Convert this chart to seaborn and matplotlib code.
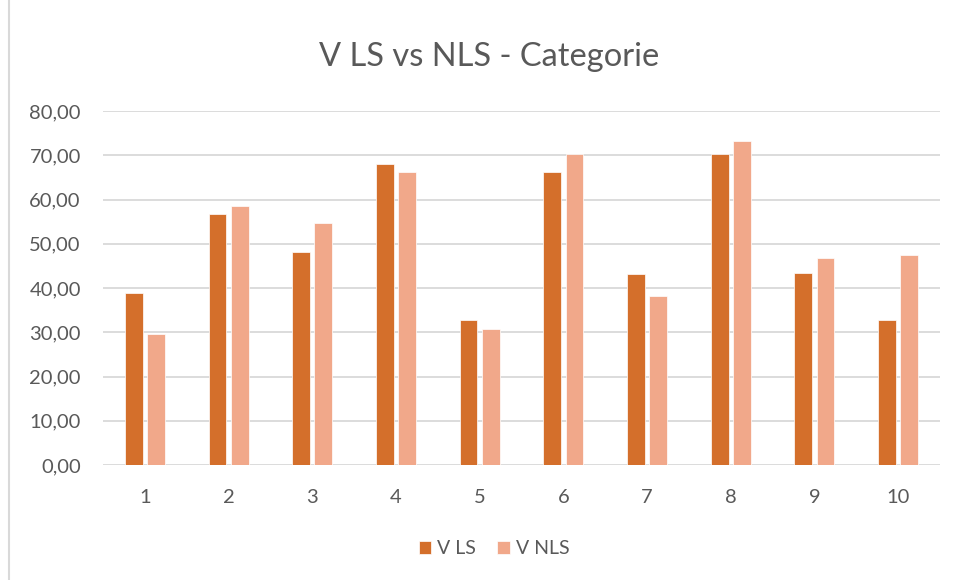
import matplotlib
matplotlib.use("Agg")
import matplotlib.pyplot as plt
import pandas as pd
import seaborn as sns
from matplotlib.lines import Line2D

categories = ["1", "2", "3", "4", "5", "6", "7", "8", "9", "10"]
v_ls = [38.9, 56.7, 48.1, 68.0, 32.7, 66.2, 43.1, 70.3, 43.4, 32.8]
v_nls = [29.6, 58.6, 54.6, 66.2, 30.7, 70.3, 38.2, 73.2, 46.8, 47.4]
series_names = ["V LS", "V NLS"]
colors = ["#D46F2B", "#F1A88A"]

df = pd.DataFrame({"Categoria": categories, series_names[0]: v_ls, series_names[1]: v_nls})
df = df.melt(id_vars="Categoria", var_name="serie", value_name="valore")

sns.set_theme(style="white")
plt.rcParams["font.family"] = ["Lato", "DejaVu Sans"]

fig = plt.figure(figsize=(9.55, 5.8), dpi=100)
ax = fig.add_axes([103 / 955, 1 - 465 / 580, 837 / 955, 354 / 580])

sns.barplot(data=df, x="Categoria", y="valore", hue="serie", order=categories,
            palette=colors, width=0.53, gap=0.2, edgecolor="white", linewidth=0.5,
            saturation=1, ax=ax, zorder=3)

ax.set_ylim(0, 80)
ax.set_xlim(-0.5, 9.5)
ax.set_yticks(range(0, 81, 10))
ax.set_yticklabels([f"{v},00" for v in range(0, 81, 10)])
ax.yaxis.grid(True, color="#D9D9D9", linewidth=1.3, zorder=0)
ax.set_axisbelow(True)
for s in ax.spines.values():
    s.set_visible(False)
ax.tick_params(axis="both", length=0, labelsize=14.5, labelcolor="#595959")
ax.tick_params(axis="x", pad=17)
ax.tick_params(axis="y", pad=16)
ax.set_xlabel("")
ax.set_ylabel("")

fig.text(489 / 955, 1 - 57 / 580, "V LS vs NLS - Categorie", ha="center", va="center",
         fontsize=23.5, color="#595959")

handles, labels = ax.get_legend_handles_labels()
ax.legend_.remove()
fig.legend(handles, labels, loc="center", bbox_to_anchor=(494 / 955, 1 - 549 / 580),
           ncol=2, frameon=False, fontsize=14, labelcolor="#595959",
           handlelength=0.65, handleheight=0.65, handletextpad=0.3, columnspacing=1.1)

# left edge of the chart frame
fig.add_artist(Line2D([9 / 955, 9 / 955], [0, 1], transform=fig.transFigure,
                      color="#D9D9D9", linewidth=1.5))

fig.savefig("out.png", dpi=100)
